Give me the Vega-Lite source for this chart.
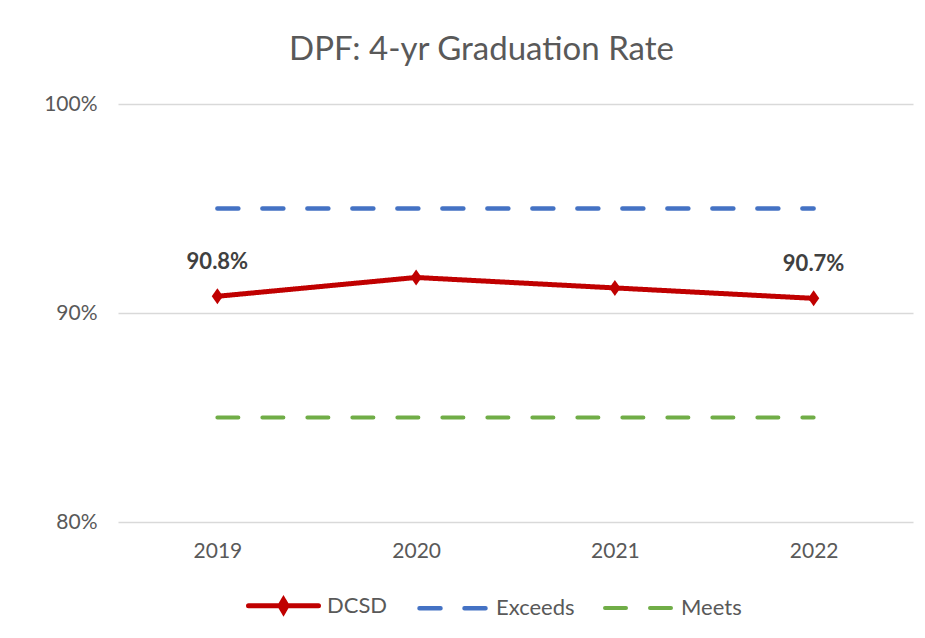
{
  "$schema": "https://vega.github.io/schema/vega-lite/v6.json",
  "width": 795,
  "height": 418,
  "autosize": {"type": "none"},
  "padding": {"left": 118, "top": 104, "right": 12, "bottom": 116},
  "background": "white",
  "config": {"view": {"stroke": null}, "font": "Lato"},
  "title": {
    "text": "DPF: 4-yr Graduation Rate",
    "fontSize": 33,
    "font": "Lato",
    "fontWeight": "normal",
    "color": "#595959",
    "anchor": "middle",
    "baseline": "alphabetic",
    "offset": 0,
    "dx": -34
  },
  "data": {
    "values": [
      {"year": "2019", "series": "DCSD", "value": 0.908},
      {"year": "2020", "series": "DCSD", "value": 0.917},
      {"year": "2021", "series": "DCSD", "value": 0.912},
      {"year": "2022", "series": "DCSD", "value": 0.907},
      {"year": "2019", "series": "Exceeds", "value": 0.95},
      {"year": "2020", "series": "Exceeds", "value": 0.95},
      {"year": "2021", "series": "Exceeds", "value": 0.95},
      {"year": "2022", "series": "Exceeds", "value": 0.95},
      {"year": "2019", "series": "Meets", "value": 0.85},
      {"year": "2020", "series": "Meets", "value": 0.85},
      {"year": "2021", "series": "Meets", "value": 0.85},
      {"year": "2022", "series": "Meets", "value": 0.85}
    ]
  },
  "encoding": {
    "x": {
      "field": "year",
      "type": "ordinal",
      "scale": {"type": "point", "padding": 0.5},
      "axis": {
        "title": null,
        "labelAngle": 0,
        "labelFontSize": 21,
        "labelColor": "#595959",
        "labelFont": "Lato",
        "labelPadding": 18,
        "ticks": false,
        "domain": false,
        "grid": false
      }
    },
    "y": {
      "field": "value",
      "type": "quantitative",
      "scale": {"domain": [0.8, 1.0], "nice": false, "zero": false},
      "axis": {
        "title": null,
        "format": ".0%",
        "values": [0.8, 0.9, 1.0],
        "labelFontSize": 21,
        "labelColor": "#595959",
        "labelFont": "Lato",
        "labelPadding": 21,
        "ticks": false,
        "domain": false,
        "grid": true,
        "gridColor": "#d9d9d9",
        "gridWidth": 1.5
      }
    }
  },
  "layer": [
    {
      "mark": {"type": "line", "strokeCap": "round", "strokeJoin": "round"},
      "encoding": {
        "color": {
          "field": "series",
          "type": "nominal",
          "scale": {"domain": ["DCSD", "Exceeds", "Meets"], "range": ["#c00000", "#4472c4", "#70ad47"]},
          "legend": {
            "title": null,
            "orient": "none",
            "legendX": 128,
            "legendY": 464,
            "direction": "horizontal",
            "symbolType": "M-1,0L1,0",
            "symbolSize": 4900,
            "symbolStrokeWidth": 4,
            "labelFontSize": 22,
            "labelColor": "#595959",
            "labelFont": "Lato",
            "labelOffset": 6,
            "columnPadding": 20,
            "encode": {
              "symbols": {
                "update": {
                  "shape": {"signal": "datum.value === 'DCSD' ? 'M-1,0L1,0M-0.1,0L0,-0.17L0.1,0L0,0.17Z' : 'M-1,0L1,0'"},
                  "fill": {"signal": "datum.value === 'DCSD' ? '#c00000' : 'transparent'"},
                  "strokeCap": {"value": "round"},
                  "strokeDashOffset": {"value": 43},
                  "strokeWidth": {"signal": "datum.value === 'DCSD' ? 5 : 4"}
                }
              }
            }
          }
        },
        "strokeDash": {
          "field": "series",
          "type": "nominal",
          "scale": {"domain": ["DCSD", "Exceeds", "Meets"], "range": [[1, 0], [21, 24], [21, 24]]},
          "legend": {
            "title": null,
            "orient": "none",
            "legendX": 128,
            "legendY": 464,
            "direction": "horizontal",
            "symbolType": "M-1,0L1,0",
            "symbolSize": 4900,
            "symbolStrokeWidth": 4,
            "labelFontSize": 22,
            "labelColor": "#595959",
            "labelFont": "Lato",
            "labelOffset": 6,
            "columnPadding": 20,
            "encode": {
              "symbols": {
                "update": {
                  "shape": {"signal": "datum.value === 'DCSD' ? 'M-1,0L1,0M-0.1,0L0,-0.17L0.1,0L0,0.17Z' : 'M-1,0L1,0'"},
                  "fill": {"signal": "datum.value === 'DCSD' ? '#c00000' : 'transparent'"},
                  "strokeCap": {"value": "round"},
                  "strokeDashOffset": {"value": 43},
                  "strokeWidth": {"signal": "datum.value === 'DCSD' ? 5 : 4"}
                }
              }
            }
          }
        },
        "strokeWidth": {
          "field": "series",
          "type": "nominal",
          "scale": {"domain": ["DCSD", "Exceeds", "Meets"], "range": [5, 4, 4]},
          "legend": null
        }
      }
    },
    {
      "transform": [{"filter": "datum.series === 'DCSD'"}],
      "mark": {"type": "point", "shape": "M0,-1L0.7,0L0,1L-0.7,0Z", "filled": true, "size": 256, "color": "#c00000", "opacity": 1}
    },
    {
      "transform": [{"filter": "datum.series === 'DCSD' && (datum.year === '2019' || datum.year === '2022')"}],
      "mark": {"type": "text", "dy": -27, "baseline": "alphabetic", "fontWeight": "bold", "fontSize": 22, "font": "Lato", "color": "#404040"},
      "encoding": {"text": {"field": "value", "type": "quantitative", "format": ".1%"}}
    }
  ]
}
